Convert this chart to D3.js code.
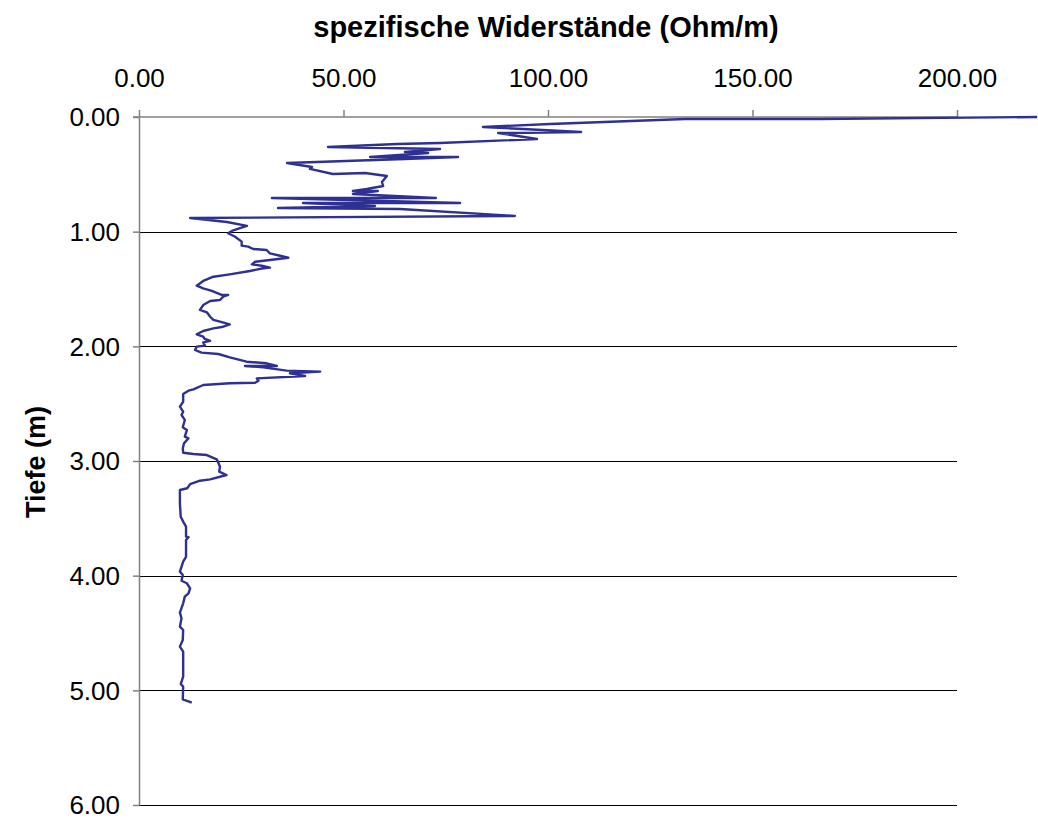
<!DOCTYPE html>
<html>
<head>
<meta charset="utf-8">
<script src="https://cdn.jsdelivr.net/npm/d3@7/dist/d3.min.js"></script>
<style>
  html, body { margin: 0; padding: 0; background: #fff; }
  svg { display: block; }
  text { font-family: Arial, "Liberation Sans", sans-serif; fill: #000; }
</style>
</head>
<body>
<svg id="chart" width="1038" height="819"></svg>
<script>
// ---- data ----
const depth = [
  0.000, 0.017, 0.017, 0.061, 0.087, 0.131, 0.140, 0.192, 0.227, 0.235,
  0.262, 0.279, 0.305, 0.314, 0.349, 0.349, 0.366, 0.401, 0.436, 0.453,
  0.497, 0.488, 0.515, 0.567, 0.602, 0.628, 0.645, 0.645, 0.671, 0.706,
  0.706, 0.750, 0.750, 0.776, 0.794, 0.802, 0.863, 0.881, 0.916, 0.950,
  0.970, 0.994, 1.014, 1.044, 1.087, 1.122, 1.131, 1.151, 1.160, 1.189,
  1.210, 1.227, 1.247, 1.262, 1.285, 1.297, 1.314, 1.319, 1.343, 1.372,
  1.393, 1.430, 1.471, 1.494, 1.517, 1.552, 1.552, 1.567, 1.596, 1.605,
  1.640, 1.683, 1.703, 1.742, 1.770, 1.785, 1.808, 1.829, 1.843, 1.866,
  1.895, 1.916, 1.936, 1.953, 1.965, 1.994, 2.003, 2.032, 2.055, 2.067,
  2.096, 2.134, 2.148, 2.171, 2.171, 2.183, 2.212, 2.221, 2.235, 2.259,
  2.279, 2.300, 2.317, 2.322, 2.337, 2.375, 2.387, 2.416, 2.483, 2.526,
  2.570, 2.599, 2.642, 2.706, 2.730, 2.788, 2.802, 2.846, 2.889, 2.928,
  2.939, 2.948, 2.985, 3.015, 3.050, 3.093, 3.122, 3.160, 3.172, 3.201,
  3.238, 3.253, 3.369, 3.486, 3.529, 3.573, 3.660, 3.665, 3.689, 3.835,
  3.878, 3.922, 3.965, 3.994, 4.044, 4.066, 4.110, 4.154, 4.183, 4.241,
  4.323, 4.372, 4.445, 4.474, 4.561, 4.619, 4.663, 4.735, 4.881, 4.945,
  4.968, 5.078, 5.108
];
const resistivity = [
  219.6, 166.5, 133.5, 100.5, 84.1, 108.1, 87.8, 97.3, 73.6, 63.1,
  46.2, 73.6, 65.0, 70.7, 56.5, 78.0, 65.0, 36.2, 42.3, 41.8,
  47.4, 55.3, 60.6, 59.4, 59.7, 55.7, 52.3, 58.4, 52.3, 72.6,
  32.5, 78.5, 40.1, 57.7, 34.0, 63.8, 91.9, 12.5, 21.5, 26.4,
  24.7, 22.7, 21.8, 23.5, 25.1, 25.1, 26.7, 27.9, 31.2, 32.0,
  34.5, 36.5, 32.0, 28.4, 27.6, 30.0, 32.0, 30.4, 27.1, 22.2,
  18.2, 15.7, 14.1, 15.7, 17.8, 20.2, 21.8, 20.6, 19.8, 17.4,
  15.7, 14.9, 16.6, 17.4, 18.2, 19.8, 22.2, 20.6, 18.2, 15.7,
  14.1, 15.7, 16.1, 17.4, 15.7, 16.1, 14.1, 13.7, 15.3, 19.4,
  22.2, 26.3, 31.2, 33.7, 25.9, 30.4, 36.1, 44.3, 36.9, 40.6,
  28.8, 29.2, 28.4, 22.2, 15.7, 13.3, 12.1, 10.8, 10.8, 10.0,
  10.8, 10.4, 11.2, 10.7, 11.7, 11.2, 12.1, 11.0, 10.7, 10.8,
  13.3, 16.6, 19.0, 19.4, 19.8, 19.6, 21.4, 17.4, 14.9, 12.5,
  11.8, 10.0, 10.0, 10.2, 10.8, 11.5, 11.5, 12.1, 11.5, 11.5,
  10.8, 10.4, 10.0, 10.7, 10.4, 11.7, 12.5, 12.1, 11.2, 10.8,
  10.0, 10.4, 10.0, 10.8, 10.7, 10.0, 10.8, 10.8, 10.8, 10.2,
  10.8, 10.7, 12.9
];
const xTicks = [0, 50, 100, 150, 200];
const yTicks = [0, 1, 2, 3, 4, 5, 6];
const titleText = "spezifische Widerstände (Ohm/m)";
const yLabelText = "Tiefe (m)";

// ---- layout ----
const svg = d3.select("#chart");
const plotL = 139, plotR = 957, plotT = 117, plotB = 805;
const x = d3.scaleLinear().domain([0, 200]).range([plotL, plotR]);
const y = d3.scaleLinear().domain([0, 6]).range([plotT, plotB]);
const fmt = d3.format(".2f");

// gridlines
svg.append("g")
  .selectAll("line")
  .data(yTicks.filter(t => t > 0))
  .join("line")
  .attr("x1", plotL).attr("x2", plotR)
  .attr("y1", d => Math.round(y(d)) + 0.5).attr("y2", d => Math.round(y(d)) + 0.5)
  .attr("stroke", "#000").attr("stroke-width", 1);

// top axis
const gx = svg.append("g").attr("transform", `translate(0,${plotT})`)
  .call(d3.axisTop(x).tickValues(xTicks).tickFormat(fmt).tickSize(7).tickSizeOuter(0));
gx.select(".domain").attr("stroke", "#808080").attr("stroke-width", 1.5)
  .attr("d", `M${plotL - 6},0H${plotR}`);
gx.selectAll(".tick line").attr("stroke", "#808080").attr("stroke-width", 1.5);
gx.selectAll(".tick text").attr("font-size", 26).attr("dy", 0).attr("y", -30)
  .attr("font-family", "Arial, 'Liberation Sans', sans-serif").attr("fill", "#000");

// left axis
const gy = svg.append("g").attr("transform", `translate(${plotL},0)`)
  .call(d3.axisLeft(y).tickValues(yTicks).tickFormat(fmt).tickSize(6).tickSizeOuter(0));
gy.select(".domain").attr("stroke", "#808080").attr("stroke-width", 1.5);
gy.selectAll(".tick line").attr("stroke", "#808080").attr("stroke-width", 1.5);
gy.selectAll(".tick text").attr("font-size", 26).attr("x", -19).attr("dy", "0.34em")
  .attr("font-family", "Arial, 'Liberation Sans', sans-serif").attr("fill", "#000");

// data line
const pts = depth.map((d, i) => [resistivity[i], d]);
svg.append("path")
  .datum(pts)
  .attr("fill", "none")
  .attr("stroke", "#2E3192")
  .attr("stroke-width", 2.4)
  .attr("stroke-linejoin", "round")
  .attr("d", d3.line().x(p => x(p[0])).y(p => y(p[1])));

// title
svg.append("text")
  .attr("x", 546).attr("y", 37)
  .attr("text-anchor", "middle")
  .attr("font-size", 29).attr("font-weight", "bold")
  .text(titleText);

// y label
svg.append("text")
  .attr("transform", `translate(45,462) rotate(-90)`)
  .attr("text-anchor", "middle")
  .attr("font-size", 27).attr("font-weight", "bold")
  .text(yLabelText);
</script>
</body>
</html>
